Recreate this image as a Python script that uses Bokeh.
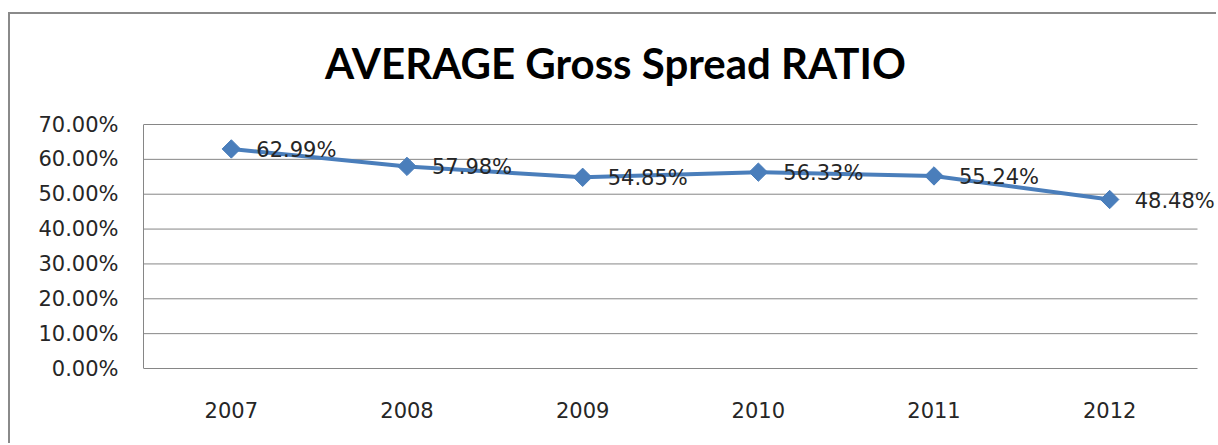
import math
from bokeh.plotting import figure
from bokeh.models import (Range1d, NumeralTickFormatter, FixedTicker,
                          ColumnDataSource, LabelSet, Label)
from bokeh.core.properties import value
from bokeh.embed import file_html
from bokeh.resources import INLINE

title_text = "AVERAGE Gross Spread RATIO"
years = ["2007", "2008", "2009", "2010", "2011", "2012"]
ratios = [0.6299, 0.5798, 0.5485, 0.5633, 0.5524, 0.4848]
point_labels = ["62.99%", "57.98%", "54.85%", "56.33%", "55.24%", "48.48%"]
y_ticks = [0.0, 0.1, 0.2, 0.3, 0.4, 0.5, 0.6, 0.7]

BLUE = "#4A7EBB"
GRID = "#868686"
TXT = "#262626"

n = len(years)
x_pos = [i + 0.5 for i in range(n)]
src = ColumnDataSource(dict(x=x_pos, year=years, ratio=ratios, label=point_labels))

# pixel geometry (page coords): categories span 143..1197, 0% at 368, 70% at 124
px_per_x = (1197 - 143) / n
px_per_y = (368 - 124) / 0.7
canvas_top = 14
x_end = (1218 - 143) / px_per_x
y_start = -1 / px_per_y
y_end = 0.7 + (124 - canvas_top) / px_per_y

p = figure(width=1208, height=431,
           x_range=Range1d(0, x_end), y_range=Range1d(y_start, y_end),
           output_backend="svg", toolbar_location=None,
           min_border_left=133, min_border_right=0,
           min_border_bottom=76, min_border_top=0)

p.margin = (12, 0, 0, 8)
p.styles = {"border-left": "2px solid #8a8a8a", "border-top": "2px solid #8a8a8a"}

p.background_fill_color = "white"
p.border_fill_color = "white"
p.outline_line_color = None

p.yaxis.ticker = FixedTicker(ticks=y_ticks)
p.yaxis.bounds = (0, 0.7)
p.yaxis.formatter = NumeralTickFormatter(format="0.00%")
p.yaxis.major_tick_line_color = None
p.yaxis.minor_tick_line_color = None
p.yaxis.major_tick_out = 0
p.yaxis.minor_tick_out = 0
p.yaxis.axis_line_color = GRID
p.yaxis.major_label_standoff = 25
p.yaxis.major_label_text_font = "DejaVu Sans"
p.yaxis.major_label_text_font_size = "21px"
p.yaxis.major_label_text_color = TXT

p.xaxis.ticker = FixedTicker(ticks=x_pos)
p.xaxis.major_label_overrides = {x: y for x, y in zip(x_pos, years)}
p.xaxis.axis_line_color = None
p.xaxis.major_tick_line_color = None
p.xaxis.minor_tick_line_color = None
p.xaxis.major_tick_out = 0
p.xaxis.minor_tick_out = 0
p.xaxis.major_label_standoff = 32
p.xaxis.major_label_text_font = "DejaVu Sans"
p.xaxis.major_label_text_font_size = "21px"
p.xaxis.major_label_text_color = TXT

p.xgrid.grid_line_color = None
p.ygrid.grid_line_color = None

p.segment(x0=[0] * len(y_ticks), x1=[n] * len(y_ticks), y0=y_ticks, y1=y_ticks,
          line_color=GRID, line_width=1)

p.line(x="x", y="ratio", source=src, line_color=BLUE, line_width=4)
p.scatter(x="x", y="ratio", source=src, marker="square", size=13,
          angle=math.pi / 4, fill_color=BLUE, line_color=BLUE)

labels = LabelSet(x="x", y="ratio", text="label", source=src,
                  x_offset=25, y_offset=-1, text_baseline="middle",
                  text_font=value("DejaVu Sans"), text_font_size="21px",
                  text_color=TXT)
p.add_layout(labels)

# chart title, centred at page x=615, capitals centred at page y=62.5
title = Label(x=(615 - 143) / px_per_x, y=0.7 + (124 - 62.5) / px_per_y,
              text=title_text, text_align="center", text_baseline="middle",
              text_font="Lato", text_font_style="bold", text_font_size="42px",
              text_color="#000000")
p.add_layout(title)

open("out.html", "w").write(file_html(p, INLINE))
